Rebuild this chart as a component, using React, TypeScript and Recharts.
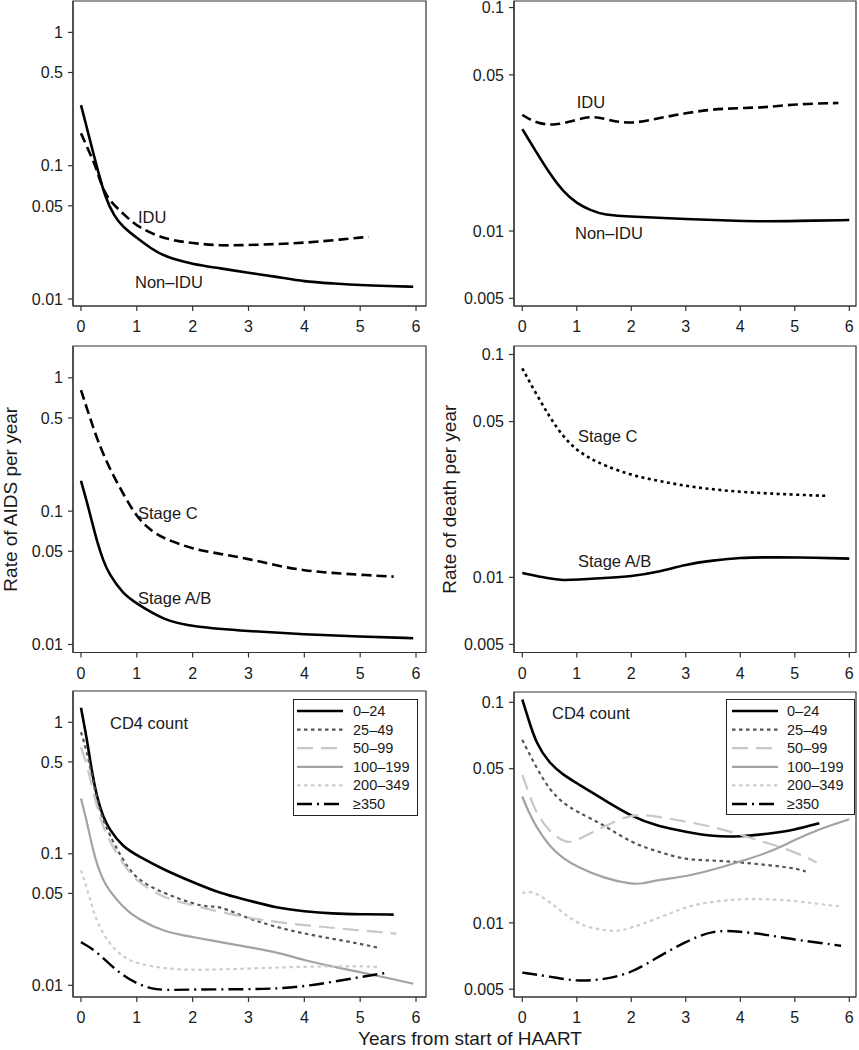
import React from "react";
import { LineChart, Line, XAxis, YAxis, ReferenceArea, ReferenceDot } from "recharts";

const FONT = "'Liberation Sans', Arial, Helvetica, sans-serif";
const INK = "#1a1a1a";
const FRAME = "#333333";

const YEAR_TICKS = [0, 1, 2, 3, 4, 5, 6];
const AIDS_TICKS = [0.01, 0.05, 0.1, 0.5, 1];
const DEATH_TICKS = [0.005, 0.01, 0.05, 0.1];

// --- top left: AIDS by IDU ---
const AIDS_NONIDU_X = [0, 0.1, 0.2, 0.28, 0.43, 0.6, 0.75, 1, 1.25, 1.5, 2, 2.5, 3, 3.5, 4, 4.5, 5, 5.5, 5.95];
const AIDS_NONIDU_Y = [0.285, 0.196, 0.134, 0.1, 0.058, 0.0414, 0.0348, 0.0287, 0.024, 0.0208, 0.0182, 0.017, 0.0157, 0.0147, 0.0135, 0.0131, 0.0127, 0.0125, 0.01236];
const AIDS_IDU_X = [0, 0.1, 0.2, 0.26, 0.43, 0.75, 1, 1.5, 2, 2.5, 3, 3.5, 4, 4.5, 5.15];
const AIDS_IDU_Y = [0.175, 0.141, 0.113, 0.1, 0.058, 0.0441, 0.0348, 0.028, 0.0262, 0.0251, 0.0254, 0.0258, 0.0264, 0.0275, 0.0293];

// --- top right: death by IDU ---
const DEATH_NONIDU_X = [0, 0.25, 0.5, 0.75, 1, 1.25, 1.5, 2, 3, 4, 4.5, 5, 6];
const DEATH_NONIDU_Y = [0.0286, 0.0227, 0.0181, 0.015, 0.0133, 0.0124, 0.0118, 0.0116, 0.0113, 0.0111, 0.01105, 0.0111, 0.0112];
const DEATH_IDU_X = [0, 0.25, 0.6, 1, 1.3, 1.6, 2, 2.5, 3, 3.5, 4, 4.5, 5, 5.8];
const DEATH_IDU_Y = [0.0331, 0.0304, 0.0296, 0.0315, 0.0328, 0.0313, 0.0301, 0.032, 0.0337, 0.0351, 0.0355, 0.0358, 0.037, 0.0374];

// --- middle left: AIDS by stage ---
const AIDS_STAGEC_X = [0, 0.1, 0.2, 0.3, 0.5, 0.75, 1, 1.25, 1.5, 2, 2.5, 3, 3.5, 4, 4.5, 5, 5.6];
const AIDS_STAGEC_Y = [0.809, 0.6, 0.45, 0.337, 0.213, 0.136, 0.09, 0.0714, 0.0619, 0.052, 0.0478, 0.0439, 0.0391, 0.0358, 0.0344, 0.0333, 0.0323];
const AIDS_STAGEAB_X = [0, 0.1, 0.2, 0.3, 0.4, 0.5, 0.75, 1, 1.5, 2, 3, 4, 5, 5.95];
const AIDS_STAGEAB_Y = [0.169, 0.12, 0.0824, 0.0567, 0.0425, 0.0339, 0.024, 0.0202, 0.0151, 0.0136, 0.0126, 0.0119, 0.01148, 0.01115];

// --- middle right: death by stage ---
const DEATH_STAGEC_X = [0, 0.25, 0.5, 0.75, 1, 1.25, 1.5, 2, 2.5, 3, 3.5, 4, 4.5, 5, 5.6];
const DEATH_STAGEC_Y = [0.0866, 0.0669, 0.0525, 0.0427, 0.0372, 0.0341, 0.0318, 0.0287, 0.0271, 0.0257, 0.0248, 0.0242, 0.0238, 0.0235, 0.0232];
const DEATH_STAGEAB_X = [0, 0.5, 0.75, 1, 1.5, 2, 2.5, 3, 3.5, 4, 4.5, 5, 6];
const DEATH_STAGEAB_Y = [0.01045, 0.00986, 0.0097, 0.00976, 0.00993, 0.0101, 0.01056, 0.01144, 0.0119, 0.01227, 0.0123, 0.0123, 0.01214];

// --- bottom left: AIDS by CD4 count ---
const CD4_GROUPS = ["0–24", "25–49", "50–99", "100–199", "200–349", "≥350"];
const AIDS_CD4_X = [
  [0, 0.1, 0.2, 0.3, 0.4, 0.5, 0.75, 1, 1.5, 2, 2.5, 3, 3.5, 4, 4.5, 5, 5.6],
  [0, 0.1, 0.2, 0.3, 0.4, 0.5, 0.75, 1, 1.5, 2, 2.3, 2.45, 3, 3.5, 4, 4.5, 5, 5.35],
  [0, 0.1, 0.2, 0.3, 0.4, 0.5, 0.75, 1, 1.5, 2, 3, 4, 5, 5.65],
  [0, 0.1, 0.2, 0.3, 0.4, 0.5, 0.75, 1, 1.5, 2, 2.5, 3, 3.5, 4, 4.5, 5, 5.5, 5.95],
  [0, 0.1, 0.2, 0.3, 0.5, 0.75, 1, 1.5, 2, 3, 4, 5, 5.35],
  [0, 0.25, 0.5, 0.75, 1, 1.25, 1.5, 2, 3, 3.5, 4, 4.5, 5, 5.45],
];
const AIDS_CD4_Y = [
  [1.29, 0.773, 0.407, 0.255, 0.19, 0.155, 0.113, 0.0975, 0.075, 0.061, 0.0498, 0.0443, 0.0387, 0.0365, 0.0351, 0.0347, 0.0345],
  [0.843, 0.612, 0.384, 0.241, 0.18, 0.1425, 0.0893, 0.063, 0.0498, 0.0418, 0.0392, 0.0405, 0.0321, 0.0277, 0.0247, 0.0226, 0.0207, 0.0192],
  [0.648, 0.485, 0.322, 0.214, 0.16, 0.127, 0.0842, 0.061, 0.0457, 0.0406, 0.0321, 0.0286, 0.0262, 0.0247],
  [0.263, 0.18, 0.113, 0.0794, 0.063, 0.0528, 0.0394, 0.0321, 0.0254, 0.0233, 0.0213, 0.0195, 0.0179, 0.0155, 0.0139, 0.0126, 0.01135, 0.0103],
  [0.075, 0.056, 0.0394, 0.0294, 0.0207, 0.0164, 0.0146, 0.0134, 0.013, 0.0134, 0.0139, 0.014, 0.0138],
  [0.0213, 0.0185, 0.0146, 0.0119, 0.0103, 0.00944, 0.00917, 0.00932, 0.00932, 0.00944, 0.00982, 0.0106, 0.01156, 0.0124],
];

// --- bottom right: death by CD4 count ---
const DEATH_CD4_X = [
  [0, 0.1, 0.25, 0.5, 0.75, 1, 1.5, 2, 2.5, 3, 3.5, 4, 4.5, 5, 5.45],
  [0, 0.25, 0.5, 0.75, 1, 1.5, 2, 2.5, 3, 3.5, 4, 4.5, 5, 5.2],
  [0, 0.1, 0.25, 0.5, 0.75, 0.9, 1.25, 1.5, 2, 2.5, 3, 3.5, 4, 4.5, 5, 5.4],
  [0, 0.1, 0.25, 0.5, 0.75, 1, 1.5, 2, 2.2, 2.5, 3, 3.5, 4, 4.5, 5, 5.5, 6],
  [0, 0.15, 0.5, 0.75, 1, 1.25, 1.5, 1.75, 2, 2.5, 3, 3.5, 4, 4.5, 5, 5.4, 5.85],
  [0, 0.5, 1, 1.5, 2, 2.5, 3, 3.5, 4, 4.5, 5, 5.5, 5.85],
];
const DEATH_CD4_Y = [
  [0.103, 0.086, 0.0652, 0.0528, 0.0469, 0.043, 0.0361, 0.0304, 0.0273, 0.0259, 0.0246, 0.0246, 0.0253, 0.0264, 0.0283],
  [0.0676, 0.051, 0.0401, 0.0349, 0.0319, 0.0278, 0.023, 0.021, 0.0193, 0.0192, 0.0188, 0.0183, 0.0177, 0.0171],
  [0.0469, 0.0401, 0.0314, 0.0259, 0.0234, 0.023, 0.0255, 0.0273, 0.0314, 0.0303, 0.0288, 0.0273, 0.0251, 0.023, 0.021, 0.0188],
  [0.0374, 0.0325, 0.0273, 0.0222, 0.0196, 0.018, 0.0159, 0.015, 0.015, 0.0157, 0.0162, 0.0174, 0.019, 0.0207, 0.0238, 0.0269, 0.0295],
  [0.0136, 0.0141, 0.0125, 0.01107, 0.01, 0.00949, 0.00926, 0.00914, 0.00949, 0.0105, 0.01186, 0.0125, 0.01285, 0.0128, 0.0126, 0.0122, 0.01186],
  [0.00595, 0.00571, 0.00542, 0.00553, 0.00591, 0.00703, 0.00822, 0.00929, 0.00913, 0.00883, 0.00838, 0.0081, 0.00787],
];

type LineStyle = { stroke: string; width: number; dash?: string };

const SOLID: LineStyle = { stroke: "#000", width: 2.6 };
const DASHED: LineStyle = { stroke: "#000", width: 2.6, dash: "10 5" };
const DOTTED: LineStyle = { stroke: "#000", width: 2.6, dash: "3 3.5" };

const CD4_STYLES: LineStyle[] = [
  { stroke: "#000", width: 2.6 },
  { stroke: "#555", width: 2.2, dash: "3.5 3.5" },
  { stroke: "#c8c8c8", width: 2.2, dash: "16 8" },
  { stroke: "#a3a3a3", width: 2.2 },
  { stroke: "#cdcdcd", width: 2.2, dash: "3.5 3.5" },
  { stroke: "#000", width: 2.4, dash: "15 5 2 5" },
];

type Series = { name: string; x: number[]; y: number[]; style: LineStyle };
type TextMark = { text: string; x: number; y: number };
type Box = { left: number; top: number; right: number; bottom: number };

const zip = (xs: number[], ys: number[]) => xs.map((x, i) => ({ x, y: ys[i] }));

const YW = 80;
const MT = 4;
const MR = 4;
const XH = 40;

function Legend({ series, left, top, width, height, lineX, textX }: {
  series: Series[]; left: number; top: number; width: number; height: number; lineX: number; textX: number;
}) {
  return (
    <div style={{ position: "absolute", left, top, width, height, border: "1.3px solid #222", boxSizing: "border-box", background: "#fff" }}>
      <svg width={width} height={height} style={{ position: "absolute", left: -1.3, top: -1.3 }}>
        {series.map((s, i) => {
          const cy = 12 + i * 18.6;
          return (
            <g key={s.name}>
              <line x1={lineX} x2={lineX + 46} y1={cy} y2={cy} stroke={s.style.stroke} strokeWidth={s.style.width} strokeDasharray={s.style.dash} />
              <text x={textX} y={cy} dy="0.35em" fontSize={14.5} fontFamily={FONT} fill={INK}>{s.name}</text>
            </g>
          );
        })}
      </svg>
    </div>
  );
}

function Panel({ box, xDomain, yDomain, yTicks, series, marks, yTitle, yTitleOffset }: {
  box: Box; xDomain: [number, number]; yDomain: [number, number]; yTicks: number[];
  series: Series[]; marks: TextMark[]; yTitle?: string; yTitleOffset?: number;
}) {
  const w = box.right - box.left + YW + MR;
  const h = box.bottom - box.top + MT + XH;
  const tickStyle = { fill: INK, fontSize: 16, fontFamily: FONT };
  return (
    <div style={{ position: "absolute", left: box.left - YW, top: box.top - MT }}>
      <LineChart width={w} height={h} margin={{ top: MT, right: MR, left: 0, bottom: 0 }}>
        <XAxis
          type="number"
          dataKey="x"
          domain={xDomain}
          ticks={YEAR_TICKS}
          allowDataOverflow
          height={XH}
          tickSize={5}
          tickMargin={10}
          tick={tickStyle}
          stroke={FRAME}
          strokeWidth={1.2}
        />
        <YAxis
          type="number"
          scale="log"
          domain={yDomain}
          ticks={yTicks}
          allowDataOverflow
          width={YW}
          tickSize={5}
          tickMargin={5}
          tick={tickStyle}
          stroke={FRAME}
          strokeWidth={1.2}
          label={yTitle ? {
            value: yTitle,
            angle: -90,
            position: "insideLeft",
            offset: yTitleOffset ?? 8,
            fill: INK,
            fontSize: 19,
            fontFamily: FONT,
            style: { textAnchor: "middle" },
          } : undefined}
        />
        <ReferenceArea
          x1={xDomain[0]}
          x2={xDomain[1]}
          y1={yDomain[0]}
          y2={yDomain[1]}
          fill="none"
          fillOpacity={0}
          stroke={FRAME}
          strokeWidth={1.2}
          ifOverflow="visible"
        />
        {series.map((s) => (
          <Line
            key={s.name}
            data={zip(s.x, s.y)}
            dataKey="y"
            name={s.name}
            type="basis"
            dot={false}
            activeDot={false}
            stroke={s.style.stroke}
            strokeWidth={s.style.width}
            strokeDasharray={s.style.dash}
            isAnimationActive={false}
          />
        ))}
        {marks.map((m) => (
          <ReferenceDot
            key={m.text}
            x={m.x}
            y={m.y}
            r={0}
            fill="none"
            stroke="none"
            ifOverflow="visible"
            label={{ value: m.text, position: "right", offset: 0, fill: INK, fontSize: 16.5, fontFamily: FONT }}
          />
        ))}
      </LineChart>
    </div>
  );
}

const LEFT_X: [number, number] = [-0.143, 6.179];
const RIGHT_X: [number, number] = [-0.152, 6.123];

const aidsCd4 = CD4_GROUPS.map((name, i) => ({ name, x: AIDS_CD4_X[i], y: AIDS_CD4_Y[i], style: CD4_STYLES[i] }));
const deathCd4 = CD4_GROUPS.map((name, i) => ({ name, x: DEATH_CD4_X[i], y: DEATH_CD4_Y[i], style: CD4_STYLES[i] }));

export default function App() {
  return (
    <div style={{ position: "absolute", left: 0, top: 0, width: 859, height: 1050, background: "#fff", overflow: "hidden", fontFamily: FONT }}>
      <Panel
        box={{ left: 73, top: 1, right: 426, bottom: 306 }}
        xDomain={LEFT_X}
        yDomain={[0.00886, 1.72]}
        yTicks={AIDS_TICKS}
        series={[
          { name: "Non-IDU", x: AIDS_NONIDU_X, y: AIDS_NONIDU_Y, style: SOLID },
          { name: "IDU", x: AIDS_IDU_X, y: AIDS_IDU_Y, style: DASHED },
        ]}
        marks={[
          { text: "IDU", x: 1.02, y: 0.0412 },
          { text: "Non–IDU", x: 0.967, y: 0.0134 },
        ]}
      />
      <Panel
        box={{ left: 514, top: 1, right: 856, bottom: 306 }}
        xDomain={RIGHT_X}
        yDomain={[0.00462, 0.107]}
        yTicks={DEATH_TICKS}
        series={[
          { name: "Non-IDU", x: DEATH_NONIDU_X, y: DEATH_NONIDU_Y, style: SOLID },
          { name: "IDU", x: DEATH_IDU_X, y: DEATH_IDU_Y, style: DASHED },
        ]}
        marks={[
          { text: "IDU", x: 1.0, y: 0.0378 },
          { text: "Non–IDU", x: 0.967, y: 0.0098 },
        ]}
      />
      <Panel
        box={{ left: 73, top: 345.5, right: 426, bottom: 652 }}
        xDomain={LEFT_X}
        yDomain={[0.00871, 1.732]}
        yTicks={AIDS_TICKS}
        series={[
          { name: "Stage A/B", x: AIDS_STAGEAB_X, y: AIDS_STAGEAB_Y, style: SOLID },
          { name: "Stage C", x: AIDS_STAGEC_X, y: AIDS_STAGEC_Y, style: DASHED },
        ]}
        marks={[
          { text: "Stage C", x: 1.02, y: 0.0962 },
          { text: "Stage A/B", x: 1.02, y: 0.0221 },
        ]}
        yTitle="Rate of AIDS per year"
        yTitleOffset={17}
      />
      <Panel
        box={{ left: 514, top: 345.5, right: 856, bottom: 652 }}
        xDomain={RIGHT_X}
        yDomain={[0.0046, 0.1092]}
        yTicks={DEATH_TICKS}
        series={[
          { name: "Stage A/B", x: DEATH_STAGEAB_X, y: DEATH_STAGEAB_Y, style: SOLID },
          { name: "Stage C", x: DEATH_STAGEC_X, y: DEATH_STAGEC_Y, style: DOTTED },
        ]}
        marks={[
          { text: "Stage C", x: 1.02, y: 0.043 },
          { text: "Stage A/B", x: 1.02, y: 0.0118 },
        ]}
        yTitle="Rate of death per year"
        yTitleOffset={15}
      />
      <Panel
        box={{ left: 73, top: 691, right: 426, bottom: 997 }}
        xDomain={LEFT_X}
        yDomain={[0.00815, 1.73]}
        yTicks={AIDS_TICKS}
        series={aidsCd4}
        marks={[{ text: "CD4 count", x: 0.52, y: 0.99 }]}
      />
      <Panel
        box={{ left: 514, top: 692, right: 856, bottom: 997 }}
        xDomain={RIGHT_X}
        yDomain={[0.00461, 0.1114]}
        yTicks={DEATH_TICKS}
        series={deathCd4}
        marks={[{ text: "CD4 count", x: 0.545, y: 0.0894 }]}
      />
      <Legend series={aidsCd4} left={293} top={699} width={125} height={117} lineX={4} textX={60} />
      <Legend series={deathCd4} left={726} top={699} width={129} height={116} lineX={6} textX={61} />
      <div style={{ position: "absolute", left: 0, width: 940, top: 1029, textAlign: "center", fontSize: 19, lineHeight: "19px", color: INK }}>
        Years from start of HAART
      </div>
    </div>
  );
}
